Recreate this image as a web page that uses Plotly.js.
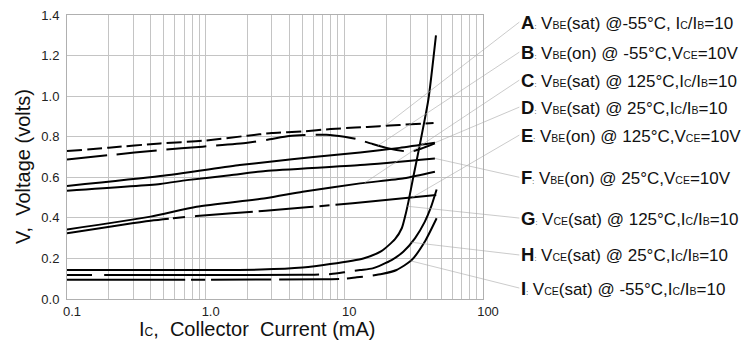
<!DOCTYPE html>
<html><head><meta charset="utf-8">
<script src="https://cdn.plot.ly/plotly-3.0.1.min.js"></script>
<style>html,body{margin:0;padding:0;background:#fff}#chart{width:745px;height:349px}</style>
</head><body><div id="chart"></div>
<script>
// ---- data (Ic in mA, V in volts) ----
const aX = [0.1,0.2,0.47,0.95,2,3,5,8,12,18,25,44];
const aY = [0.729,0.746,0.767,0.78,0.805,0.818,0.826,0.838,0.845,0.852,0.858,0.867];
const bX = [0.1,0.2,0.47,0.95,2,2.9,4,5.2,7.4,10,12.3,16,21,30,36,45];
const bY = [0.688,0.709,0.734,0.751,0.77,0.787,0.803,0.808,0.81,0.8,0.788,0.764,0.742,0.726,0.742,0.767];
const cX = [0.1,0.4,0.86,2.7,5,13,27,45];
const cY = [0.343,0.406,0.455,0.497,0.529,0.57,0.595,0.627];
const dX = [0.1,0.47,1.76,2.9,6,13,25,45];
const dY = [0.557,0.606,0.66,0.677,0.70,0.722,0.745,0.770];
const eX = [0.1,0.4,0.86,2.7,11.5,46];
const eY = [0.324,0.386,0.409,0.435,0.472,0.513];
const fX = [0.1,0.47,0.73,1.5,2.7,13,45];
const fY = [0.534,0.567,0.586,0.61,0.631,0.66,0.693];
const gX = [0.1,1,2.5,5,7.9,13.7,18.5,23.2,26,27.5,29,31.4,35,40.3,45.8];
const gY = [0.143,0.143,0.145,0.155,0.172,0.2,0.236,0.295,0.35,0.41,0.48,0.6,0.76,0.98,1.30];
const hX = [0.1,5,8,10.5,13,16,21.9,26.6,32.3,38,42,46.3];
const hY = [0.118,0.119,0.123,0.134,0.143,0.151,0.192,0.233,0.299,0.38,0.45,0.54];
const iX = [0.1,7,10,12.3,15,18.6,23.8,30.6,38,46.3];
const iY = [0.095,0.097,0.1,0.107,0.113,0.123,0.143,0.192,0.282,0.398];

const labelLetters = ['A','B','C','D','E','F','G','H','I'];
const labelTexts = [
  'V<span style="font-size:10.5px">BE</span>(sat) @-55°C, I<span style="font-size:10.5px">C</span>/I<span style="font-size:10.5px">B</span>=10',
  'V<span style="font-size:10.5px">BE</span>(on) @ -55°C,V<span style="font-size:10.5px">CE</span>=10V',
  'V<span style="font-size:10.5px">BE</span>(sat) @ 125°C,I<span style="font-size:10.5px">C</span>/I<span style="font-size:10.5px">B</span>=10',
  'V<span style="font-size:10.5px">BE</span>(sat) @ 25°C,I<span style="font-size:10.5px">C</span>/I<span style="font-size:10.5px">B</span>=10',
  'V<span style="font-size:10.5px">BE</span>(on) @ 125°C,V<span style="font-size:10.5px">CE</span>=10V',
  'V<span style="font-size:10.5px">BE</span>(on) @ 25°C,V<span style="font-size:10.5px">CE</span>=10V',
  'V<span style="font-size:10.5px">CE</span>(sat) @ 125°C,I<span style="font-size:10.5px">C</span>/I<span style="font-size:10.5px">B</span>=10',
  'V<span style="font-size:10.5px">CE</span>(sat) @ 25°C,I<span style="font-size:10.5px">C</span>/I<span style="font-size:10.5px">B</span>=10',
  'V<span style="font-size:10.5px">CE</span>(sat) @ -55°C,I<span style="font-size:10.5px">C</span>/I<span style="font-size:10.5px">B</span>=10'
];
// leader-line target current (mA) on each curve
const leaderAt = [19.6,17.5,14,45,31,45,28.5,30.5,30];

const xTickVals = [0.1,0.2,0.3,0.4,0.5,0.6,0.7,0.8,0.9,1,2,3,4,5,6,7,8,9,10,20,30,40,50,60,70,80,90,100];
const xTickText = ['0.1','','','','','','','','','1.0','','','','','','','','','10','','','','','','','','','100'];

// ---- styles ----
const series = [[aX,aY],[bX,bY],[cX,cY],[dX,dY],[eX,eY],[fX,fY],[gX,gY],[hX,hY],[iX,iY]];
const dashes = [
  '15px,5px',
  '40px,10px',
  'solid',
  'solid',
  '103px,4px,12px,10px,58px,6px,55px,6px,10px,6px,200px',
  'solid',
  'solid',
  '25px,12px,215px,10px,16px,10px,400px',
  '118px,6px,14px,6px,60px,8px,60px,8px,16px,10px,400px'
];
// label anchor (log10 x, volts) to the right of the plot
const labelAX = 2.262;
const labelAY = [1.365,1.217,1.079,0.946,0.808,0.600,0.399,0.217,0.054];

function interpY(xs, ys, x){
  const lx = Math.log10(x);
  for(let k=0;k<xs.length-1;k++){
    const l0=Math.log10(xs[k]), l1=Math.log10(xs[k+1]);
    if(lx>=l0 && lx<=l1){ return ys[k]+(ys[k+1]-ys[k])*(lx-l0)/(l1-l0); }
  }
  return ys[ys.length-1];
}

const traces = series.map((s,k)=>({
  x:s[0], y:s[1], type:'scatter', mode:'lines', showlegend:false, hoverinfo:'skip',
  line:{color:'#000', width:2, dash:dashes[k], shape:'spline', smoothing:0.6}
}));

const FONT = 'Liberation Sans, Arial, sans-serif';
const annotations = labelLetters.map((L,k)=>{
  const s = series[k];
  const hx = Math.min(leaderAt[k], s[0][s[0].length-1]);
  return {
    x: Math.log10(hx), y: interpY(s[0], s[1], hx), xref:'x', yref:'y',
    axref:'x', ayref:'y', ax: labelAX, ay: labelAY[k],
    showarrow:true, arrowhead:0, arrowwidth:0.6, arrowcolor:'#a8a8a8', standoff:0,
    xanchor:'left', yanchor:'middle', align:'left',
    text:'<b><span style="font-size:18.5px">'+L+'</span></b><span style="font-size:7px">:</span> '+labelTexts[k],
    font:{family:FONT, size:17, color:'#111'}
  };
});
annotations.push({
  xref:'paper', yref:'paper', x:0.459, y:-0.106, xanchor:'center', yanchor:'middle', showarrow:false,
  text:'I<span style="font-size:12px">C</span>,  Collector  Current (mA)', font:{family:FONT, size:20, color:'#111'}
});
annotations.push({
  xref:'paper', yref:'paper', x:-0.106, y:0.468, xanchor:'center', yanchor:'middle', showarrow:false, textangle:-90,
  text:'V,  Voltage (volts)', font:{family:FONT, size:20, color:'#111'}
});

const layout = {
  width:745, height:349,
  margin:{l:67, r:262, t:15, b:50, pad:0},
  paper_bgcolor:'#fff', plot_bgcolor:'#fff',
  font:{family:FONT, size:13, color:'#222'},
  xaxis:{type:'log', range:[-1,2], tickvals:xTickVals, ticktext:xTickText, ticks:'',
         showgrid:true, gridcolor:'#c4c4c4', gridwidth:1, zeroline:false,
         showline:true, linecolor:'#b0b0b0', linewidth:1, mirror:true,
         ticklabelshift:5, ticklabelstandoff:0, tickfont:{size:13, color:'#222'}},
  yaxis:{range:[0,1.4], dtick:0.2, tick0:0, tickformat:'.1f', ticks:'',
         showgrid:true, gridcolor:'#c4c4c4', gridwidth:1, zeroline:false,
         showline:true, linecolor:'#b0b0b0', linewidth:1, mirror:true,
         ticklabelstandoff:4, tickfont:{size:13, color:'#222'}},
  annotations:annotations
};
Plotly.newPlot('chart', traces, layout, {displayModeBar:false, staticPlot:true});
</script>
</body></html>
